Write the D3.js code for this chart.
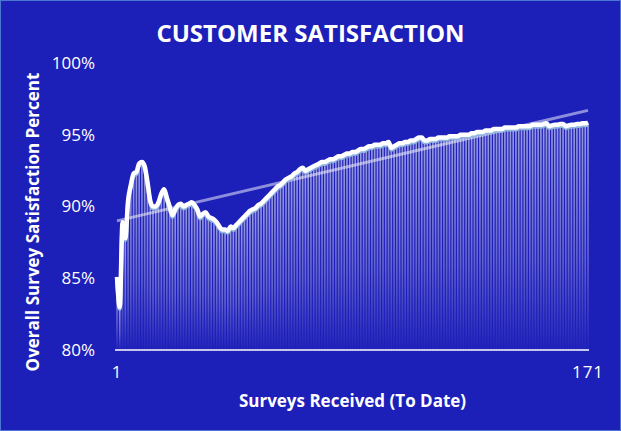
<html>
<head>
<script src="https://cdn.jsdelivr.net/npm/d3@7"></script>
<style>
  body { margin: 0; background: #1d1fb9; }
  text { font-family: "Open Sans", sans-serif; fill: #fff; }
</style>
</head>
<body>
<div id="chart"></div>
<script>
// cumulative satisfaction after each survey (%)
const surveys = d3.range(1, 172);
const satisfaction = [
  85.1, 83.0, 88.9, 87.8, 90.4, 91.5, 92.3, 92.4, 93.0, 93.1,
  92.8, 91.7, 90.4, 90.0, 90.0, 90.3, 90.9, 91.2, 90.6, 90.0,
  89.4, 89.8, 90.1, 90.2, 90.0, 90.1, 90.2, 90.3, 90.1, 89.8,
  89.3, 89.5, 89.6, 89.3, 89.2, 89.1, 88.9, 88.6, 88.4, 88.4,
  88.3, 88.6, 88.5, 88.7, 88.9, 89.1, 89.3, 89.5, 89.7, 89.8,
  89.9, 90.1, 90.2, 90.4, 90.6, 90.8, 91.0, 91.2, 91.4, 91.5,
  91.7, 91.9, 92.0, 92.1, 92.3, 92.4, 92.6, 92.7, 92.5, 92.6,
  92.7, 92.8, 92.9, 93.0, 93.1, 93.1, 93.2, 93.3, 93.3, 93.4,
  93.5, 93.5, 93.6, 93.7, 93.7, 93.8, 93.8, 93.9, 94.0, 94.0,
  94.1, 94.2, 94.2, 94.3, 94.3, 94.3, 94.4, 94.4, 94.5, 94.1,
  94.2, 94.3, 94.4, 94.4, 94.5, 94.5, 94.6, 94.6, 94.7, 94.8,
  94.8, 94.6, 94.6, 94.7, 94.7, 94.7, 94.8, 94.8, 94.8, 94.8,
  94.9, 94.9, 94.9, 94.9, 95.0, 95.0, 95.0, 95.0, 95.1, 95.1,
  95.2, 95.2, 95.2, 95.3, 95.3, 95.3, 95.4, 95.4, 95.4, 95.4,
  95.5, 95.5, 95.5, 95.5, 95.5, 95.6, 95.6, 95.6, 95.6, 95.6,
  95.7, 95.7, 95.7, 95.7, 95.75, 95.8, 95.6, 95.65, 95.7, 95.7,
  95.75, 95.75, 95.6, 95.65, 95.7, 95.7, 95.75, 95.75, 95.8, 95.8,
  95.85
];
const trendEnds = [89.0, 96.7];
const yTicks = [80, 85, 90, 95, 100];
const xTicks = [1, 171];

const width = 621, height = 431;

const svg = d3.select("#chart").append("svg")
  .attr("width", width)
  .attr("height", height);

svg.append("rect")
  .attr("x", 0.5).attr("y", 0.5)
  .attr("width", width - 1).attr("height", height - 1)
  .attr("fill", "#1d1fb9")
  .attr("stroke", "#4a78d0");

const x = d3.scaleLinear().domain([1, 171]).range([117, 588]);
const y = d3.scaleLinear().domain([80, 100]).range([350, 63]);

const grad = svg.append("defs").append("linearGradient")
  .attr("id", "barfade")
  .attr("x1", 0).attr("y1", 0).attr("x2", 0).attr("y2", 1);
grad.append("stop").attr("offset", 0).attr("stop-color", "#fff").attr("stop-opacity", 0.55);
grad.append("stop").attr("offset", 0.6).attr("stop-color", "#fff").attr("stop-opacity", 0.3);
grad.append("stop").attr("offset", 1).attr("stop-color", "#fff").attr("stop-opacity", 0.02);

// title
svg.append("text")
  .attr("x", width / 2).attr("y", 42)
  .attr("text-anchor", "middle")
  .attr("font-size", 24).attr("font-weight", "bold")
  .text("CUSTOMER SATISFACTION");

// bars
svg.append("g").selectAll("rect")
  .data(surveys)
  .join("rect")
  .attr("x", d => x(d) - 0.8)
  .attr("width", 1.6)
  .attr("y", (d, i) => y(satisfaction[i]))
  .attr("height", (d, i) => y(80) - y(satisfaction[i]))
  .attr("fill", "url(#barfade)");

// trendline
svg.append("line")
  .attr("x1", x(1)).attr("x2", x(171))
  .attr("y1", y(trendEnds[0])).attr("y2", y(trendEnds[1]))
  .attr("stroke", "#fff").attr("stroke-opacity", 0.5)
  .attr("stroke-width", 3);

const line = d3.line()
  .x((d, i) => x(surveys[i]))
  .y(d => y(d))
  .curve(d3.curveMonotoneX);

// shadow then main line
svg.append("path")
  .datum(satisfaction)
  .attr("d", line)
  .attr("transform", "translate(0,2)")
  .attr("fill", "none")
  .attr("stroke", "#8fb4e0")
  .attr("stroke-width", 4);

svg.append("path")
  .datum(satisfaction)
  .attr("d", line)
  .attr("fill", "none")
  .attr("stroke", "#fff")
  .attr("stroke-width", 4.5)
  .attr("stroke-linejoin", "round");

// axis line
svg.append("line")
  .attr("x1", 115).attr("x2", 589)
  .attr("y1", y(80)).attr("y2", y(80))
  .attr("stroke", "#fff").attr("stroke-width", 1.5);

// y tick labels
svg.append("g").selectAll("text")
  .data(yTicks)
  .join("text")
  .attr("x", 95)
  .attr("y", d => y(d))
  .attr("dy", "0.35em")
  .attr("text-anchor", "end")
  .attr("font-size", 17)
  .text(d => d + "%");

// x tick labels
svg.append("g").selectAll("text")
  .data(xTicks)
  .join("text")
  .attr("x", d => x(d))
  .attr("y", 378)
  .attr("text-anchor", "middle")
  .attr("font-size", 17)
  .attr("letter-spacing", 1)
  .text(d => d);

svg.append("text")
  .attr("x", (x(1) + x(171)) / 2).attr("y", 407)
  .attr("text-anchor", "middle")
  .attr("font-size", 17).attr("font-weight", "bold")
  .text("Surveys Received (To Date)");

svg.append("text")
  .attr("transform", "translate(39,222) rotate(-90)")
  .attr("text-anchor", "middle")
  .attr("font-size", 17).attr("font-weight", "bold")
  .text("Overall Survey Satisfaction Percent");
</script>
</body>
</html>
